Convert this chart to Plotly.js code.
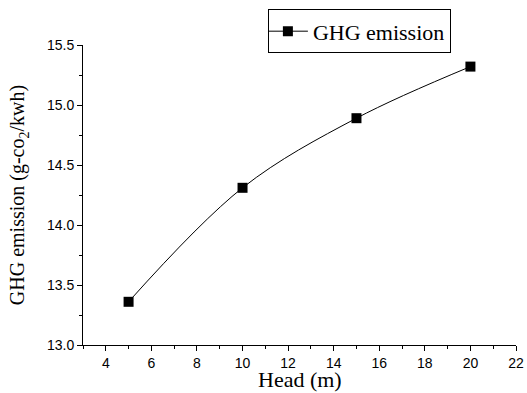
<!DOCTYPE html>
<html>
<head>
<meta charset="utf-8">
<script src="https://cdn.plot.ly/plotly-3.0.1.min.js"></script>
<style>html,body{margin:0;padding:0;background:#fff;}#chart{width:527px;height:393px;}</style>
</head>
<body>
<div id="chart"></div>
<script>
var head = [5, 10, 15, 20];
var ghg = [13.36, 14.31, 14.89, 15.32];
var xTicks = [4, 6, 8, 10, 12, 14, 16, 18, 20, 22];
var yTicks = [13.0, 13.5, 14.0, 14.5, 15.0, 15.5];
var xTitle = 'Head (m)';
var yTitle = 'GHG emission (g-co<sub>2</sub>/kwh)';

var trace = {
  x: head, y: ghg, type: 'scatter', mode: 'lines+markers',
  name: 'GHG emission',
  line: {color: '#000', width: 1, shape: 'spline'},
  marker: {symbol: 'square', size: 10, color: '#000'}
};
var layout = {
  width: 527, height: 393,
  margin: {l: 83, r: 11, t: 44, b: 48},
  paper_bgcolor: '#fff', plot_bgcolor: '#fff',
  showlegend: true,
  legend: {x: 0.427, y: 1.115, xanchor: 'left', yanchor: 'top',
    bordercolor: '#000', borderwidth: 1, bgcolor: '#fff',
    font: {family: 'Liberation Serif, Times New Roman, serif', size: 22, color: '#000'},
    itemwidth: 40, tracegroupgap: 0, indentation: -6},
  xaxis: {
    range: [3, 22], tickvals: xTicks, ticktext: xTicks.map(String),
    showgrid: false, zeroline: false, showline: true, linecolor: '#000', linewidth: 1,
    ticks: 'outside', ticklen: 5, tickcolor: '#000',
    minor: {dtick: 1, ticks: 'outside', ticklen: 3, tickcolor: '#000', showgrid: false},
    tickfont: {family: 'Liberation Sans, Arial, sans-serif', size: 14, color: '#000'},
    automargin: false
  },
  yaxis: {
    range: [13.0, 15.5], tickvals: yTicks, ticktext: yTicks.map(function(v){return v.toFixed(1);}),
    showgrid: false, zeroline: false, showline: true, linecolor: '#000', linewidth: 1,
    ticks: 'outside', ticklen: 5, tickcolor: '#000',
    minor: {dtick: 0.25, ticks: 'outside', ticklen: 3, tickcolor: '#000', showgrid: false},
    tickfont: {family: 'Liberation Sans, Arial, sans-serif', size: 14, color: '#000'},
    automargin: false,
    title: {text: yTitle, font: {family: 'Liberation Serif, Times New Roman, serif', size: 20, color: '#000'}, standoff: 16}
  },
  annotations: [{
    text: xTitle, xref: 'paper', yref: 'paper', x: 0.5, y: -0.116,
    xanchor: 'center', yanchor: 'middle', showarrow: false,
    font: {family: 'Liberation Serif, Times New Roman, serif', size: 22, color: '#000'}
  }]
};
Plotly.newPlot('chart', [trace], layout, {displayModeBar: false, staticPlot: true});
</script>
</body>
</html>
